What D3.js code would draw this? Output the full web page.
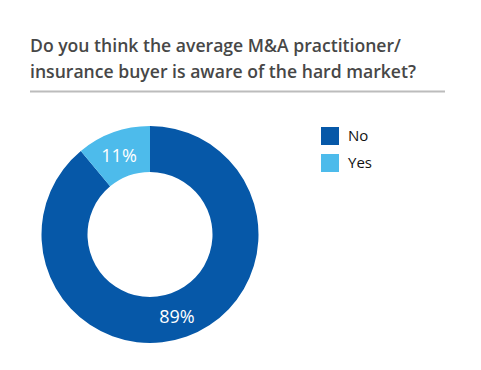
<!DOCTYPE html>
<html>
<head>
<meta charset="utf-8">
<script src="https://cdn.jsdelivr.net/npm/d3@7"></script>
<style>
  html, body { margin: 0; padding: 0; background: #fff; }
  svg { display: block; }
</style>
</head>
<body>
<svg id="chart" width="481" height="370"></svg>
<script>
const titleLines = ["Do you think the average M&A practitioner/", "insurance buyer is aware of the hard market?"];
const categories = ["No", "Yes"];
const values = [89, 11];
const colors = ["#0658a8", "#4dbbeb"];

const svg = d3.select("#chart");
const font = "'Open Sans', 'Noto Sans', sans-serif";

// Title
svg.append("g").selectAll("text").data(titleLines).join("text")
  .attr("x", 30)
  .attr("y", (d, i) => 51.5 + i * 26)
  .attr("font-family", font)
  .attr("font-weight", 600)
  .attr("font-size", 17.6)
  .attr("fill", "#474747")
  .text(d => d);

svg.append("line")
  .attr("x1", 30).attr("x2", 445)
  .attr("y1", 91.5).attr("y2", 91.5)
  .attr("stroke", "#bcbcbc").attr("stroke-width", 2);

// Donut
const cx = 150, cy = 234.5, rOuter = 108.5, rInner = 62.5;
const pie = d3.pie().sort(null).value(d => d.value);
const arcs = pie(categories.map((c, i) => ({ cat: c, value: values[i] })));
const arc = d3.arc().innerRadius(rInner).outerRadius(rOuter);
const color = d3.scaleOrdinal().domain(categories).range(colors);

const g = svg.append("g").attr("transform", `translate(${cx},${cy})`);
g.selectAll("path").data(arcs).join("path")
  .attr("d", arc)
  .attr("fill", d => color(d.data.cat));

g.selectAll("text").data(arcs).join("text")
  .attr("transform", d => { const c = arc.centroid(d); return `translate(${c[0] - 2},${c[1] + 2})`; })
  .attr("text-anchor", "middle")
  .attr("dy", "0.35em")
  .attr("font-family", font)
  .attr("font-size", 18)
  .attr("fill", "#ffffff")
  .text(d => d.data.value + "%");

// Legend
const legend = svg.append("g").attr("transform", "translate(321,127)");
const item = legend.selectAll("g").data(categories).join("g")
  .attr("transform", (d, i) => `translate(0,${i * 27})`);
item.append("rect")
  .attr("width", 18).attr("height", 18)
  .attr("fill", d => color(d));
item.append("text")
  .attr("x", 27).attr("y", 14)
  .attr("font-family", font)
  .attr("font-size", 15)
  .attr("fill", "#111111")
  .text(d => d);
</script>
</body>
</html>
